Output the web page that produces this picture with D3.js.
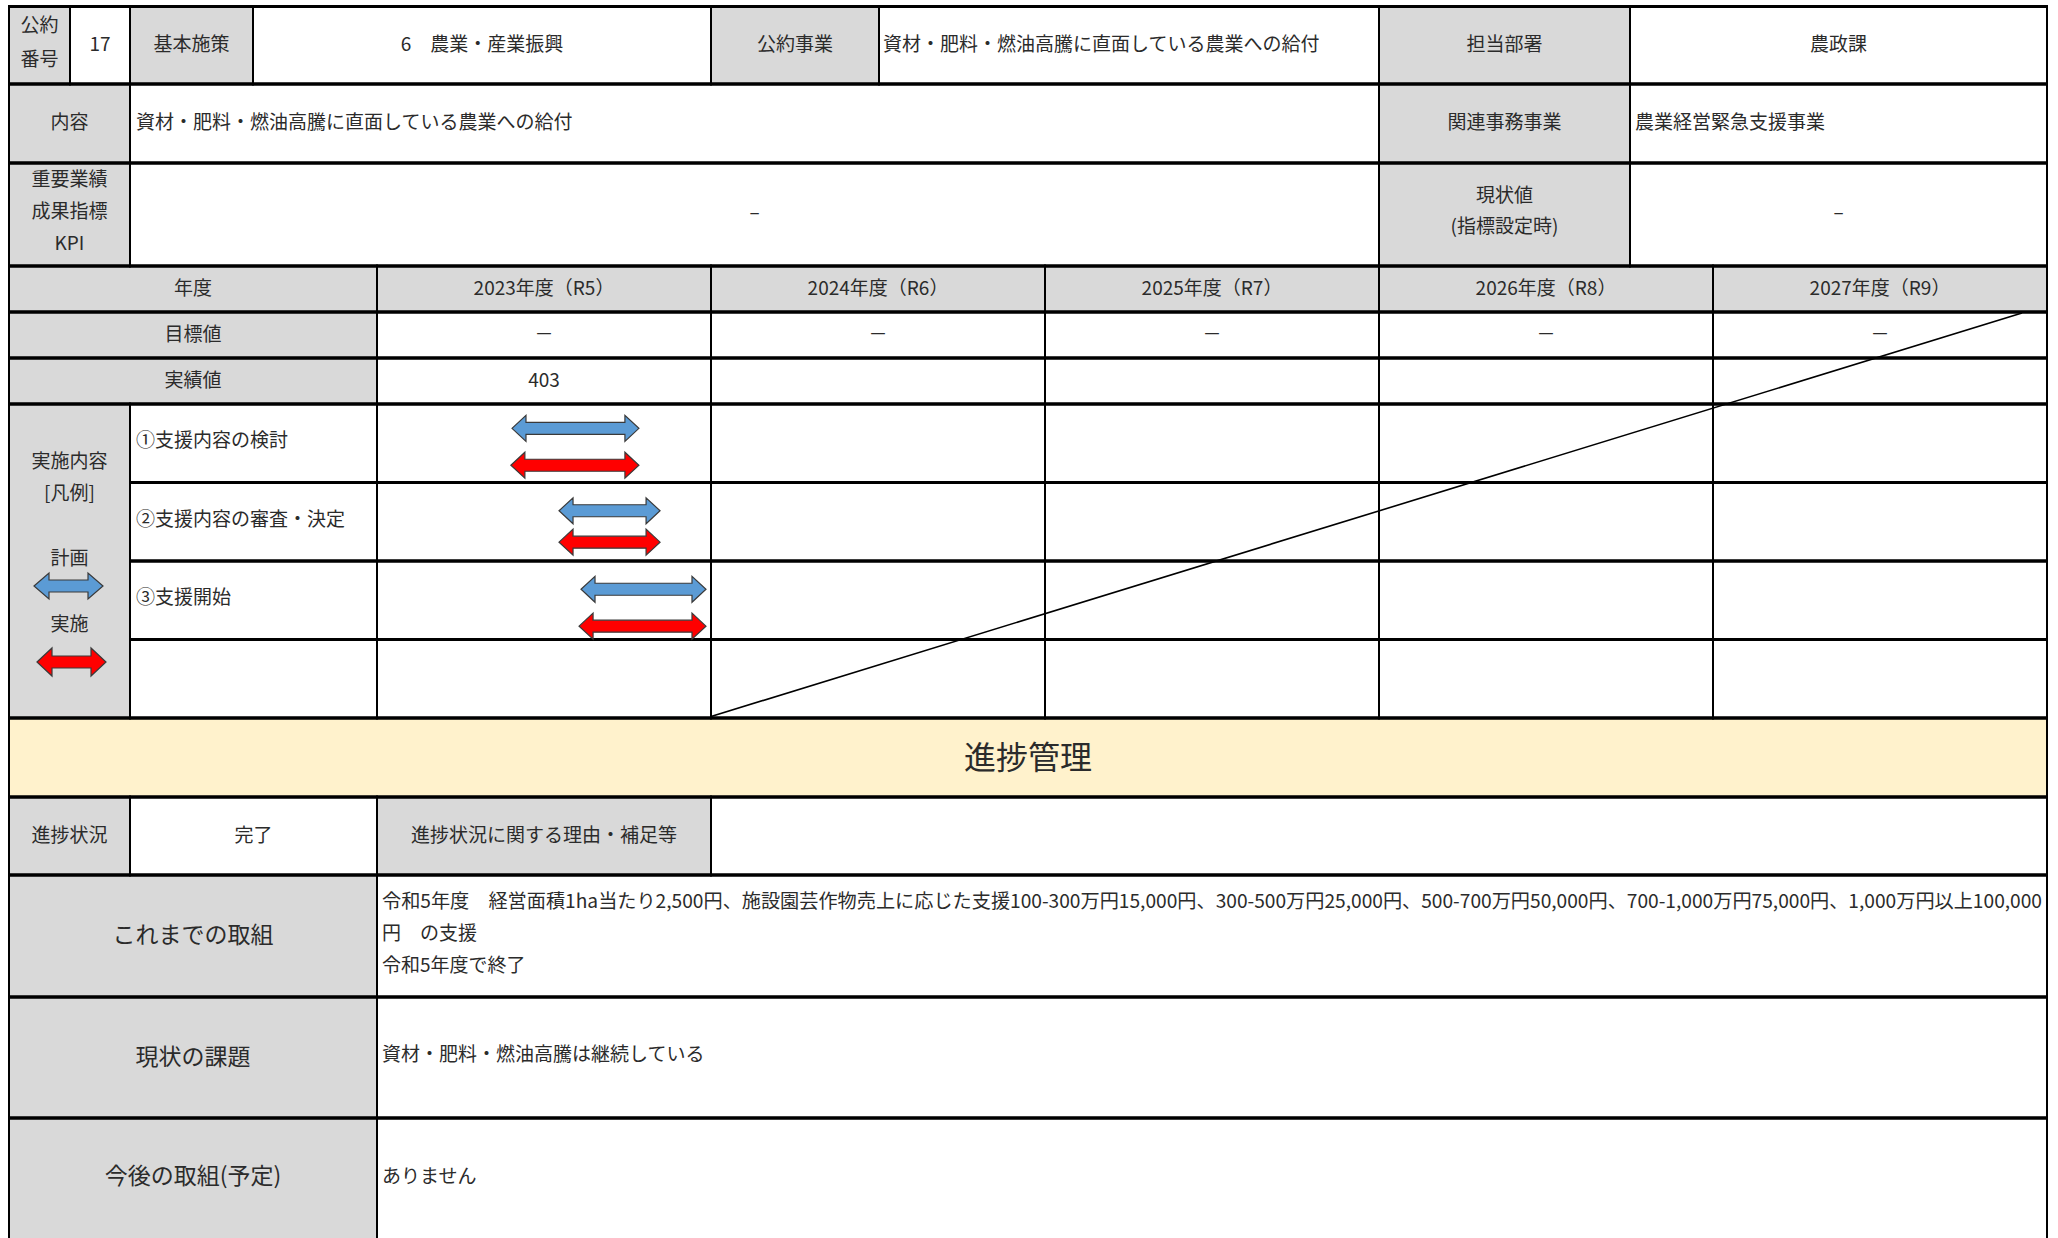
<!DOCTYPE html>
<html><head><meta charset="utf-8">
<script src="https://cdn.jsdelivr.net/npm/d3@7"></script>
<style>
html,body{margin:0;padding:0;background:#fff;}
text{font-family:"Noto Sans CJK JP","Noto Sans",sans-serif;fill:#2b2b2b;}
</style></head>
<body>
<svg id="chart" width="2058" height="1238"></svg>
<script>
// ---------- data ----------
const pledgeNoLabel = ["公約", "番号"];
const pledgeNo = "17";
const basicPolicy = "6　農業・産業振興";
const pledgeProject = "資材・肥料・燃油高騰に直面している農業への給付";
const department = "農政課";
const contentText = "資材・肥料・燃油高騰に直面している農業への給付";
const relatedProject = "農業経営緊急支援事業";
const kpiLabel = ["重要業績", "成果指標", "KPI"];
const kpiValue = "–";
const currentLabel = ["現状値", "(指標設定時)"];
const currentValue = "–";
const years = ["2023年度（R5）", "2024年度（R6）", "2025年度（R7）", "2026年度（R8）", "2027年度（R9）"];
const targetValues = ["－", "－", "－", "－", "－"];
const actualValues = ["403", "", "", "", ""];
const tasks = ["①支援内容の検討", "②支援内容の審査・決定", "③支援開始", ""];
// months from start of fiscal year 2023 (April = 0)
const planStart = [4.85, 6.54, 7.33];
const planEnd = [9.41, 10.17, 11.82];
const actualStart = [4.81, 6.54, 7.26];
const actualEnd = [9.41, 10.17, 11.82];
const legendLabels = ["実施内容", "[凡例]", "計画", "実施"];
const sectionTitle = "進捗管理";
const progressStatus = "完了";
const effortsLines = [
  "令和5年度　経営面積1ha当たり2,500円、施設園芸作物売上に応じた支援100-300万円15,000円、300-500万円25,000円、500-700万円50,000円、700-1,000万円75,000円、1,000万円以上100,000",
  "円　の支援",
  "令和5年度で終了"
];
const issueText = "資材・肥料・燃油高騰は継続している";
const futureText = "ありません";

// ---------- layout ----------
const svg = d3.select("#chart");
const GRAY = "#d9d9d9", YEL = "#fff2cc", WHITE = "#ffffff";
const L = 9, R = 2047;
const rowEdges = [6.5, 84, 163, 266, 312, 358, 404, 482, 560.5, 639, 718, 797, 875, 997, 1118, 1245];
const xYear = d3.scaleBand().domain(years).range([377, R]);
const month = d3.scaleLinear().domain([0, 12]).range([xYear(years[0]), xYear(years[0]) + xYear.bandwidth()]);
const taskY = d3.scaleBand().domain(d3.range(tasks.length)).range([rowEdges[6], rowEdges[10]]);

const cells = [];
function cell(x0, x1, y0, y1, fill) { cells.push({x0, x1, y0, y1, fill}); }
const r = rowEdges;
// row 0
cell(L, 70, r[0], r[1], GRAY); cell(70, 130, r[0], r[1], WHITE); cell(130, 253, r[0], r[1], GRAY);
cell(253, 711, r[0], r[1], WHITE); cell(711, 879, r[0], r[1], GRAY); cell(879, 1379, r[0], r[1], WHITE);
cell(1379, 1630, r[0], r[1], GRAY); cell(1630, R, r[0], r[1], WHITE);
// row 1
cell(L, 130, r[1], r[2], GRAY); cell(130, 1379, r[1], r[2], WHITE); cell(1379, 1630, r[1], r[2], GRAY); cell(1630, R, r[1], r[2], WHITE);
// row 2
cell(L, 130, r[2], r[3], GRAY); cell(130, 1379, r[2], r[3], WHITE); cell(1379, 1630, r[2], r[3], GRAY); cell(1630, R, r[2], r[3], WHITE);
// rows 3-5
[3, 4, 5].forEach(i => {
  cell(L, 377, r[i], r[i + 1], GRAY);
  years.forEach(y => cell(xYear(y), xYear(y) + xYear.bandwidth(), r[i], r[i + 1], i === 3 ? GRAY : WHITE));
});
// task rows
cell(L, 130, r[6], r[10], GRAY);
tasks.forEach((t, i) => {
  const y0 = taskY(i), y1 = y0 + taskY.bandwidth();
  cell(130, 377, y0, y1, WHITE);
  years.forEach(y => cell(xYear(y), xYear(y) + xYear.bandwidth(), y0, y1, WHITE));
});
// section band
cell(L, R, r[10], r[11], YEL);
// progress
cell(L, 130, r[11], r[12], GRAY); cell(130, 377, r[11], r[12], WHITE); cell(377, 711, r[11], r[12], GRAY); cell(711, R, r[11], r[12], WHITE);
[12, 13, 14].forEach(i => { cell(L, 377, r[i], r[i + 1], GRAY); cell(377, R, r[i], r[i + 1], WHITE); });

const gCells = svg.append("g");
gCells.selectAll("rect").data(cells).join("rect")
  .attr("x", d => d.x0).attr("y", d => d.y0).attr("width", d => d.x1 - d.x0).attr("height", d => d.y1 - d.y0)
  .attr("fill", d => d.fill);
const vLines = [], hLines = [];
cells.forEach(c => {
  vLines.push([c.x0, c.y0, c.x0, c.y1], [c.x1, c.y0, c.x1, c.y1]);
  hLines.push([c.x0, c.y0, c.x1, c.y0], [c.x0, c.y1, c.x1, c.y1]);
});
svg.append("g").selectAll("line").data(vLines).join("line")
  .attr("x1", d => d[0]).attr("y1", d => d[1]).attr("x2", d => d[2]).attr("y2", d => d[3])
  .attr("stroke", "#000").attr("stroke-width", 2);
svg.append("g").selectAll("line").data(hLines).join("line")
  .attr("x1", d => d[0] - 1).attr("y1", d => d[1]).attr("x2", d => d[2] + 1).attr("y2", d => d[3])
  .attr("stroke", "#000").attr("stroke-width", 3);

// diagonal "not applicable" line
svg.append("line")
  .attr("x1", xYear(years[1])).attr("y1", r[10] - 1.5)
  .attr("x2", xYear(years[4]) + xYear.bandwidth() - 25).attr("y2", r[4] + 1)
  .attr("stroke", "#000").attr("stroke-width", 1.6);

// ---------- text ----------
const gT = svg.append("g");
const DY = -2.8;
function txt(s, x, y, opt = {}) {
  const t = gT.append("text").attr("x", x).attr("y", y + DY).text(s)
    .attr("font-size", opt.size || 19)
    .attr("text-anchor", opt.anchor || "middle")
    .attr("dominant-baseline", "central");
  if (opt.len) t.attr("textLength", opt.len).attr("lengthAdjust", "spacingAndGlyphs");
  return t;
}
const mid = (a, b) => (a + b) / 2;
txt(pledgeNoLabel[0], mid(L, 70), 26); txt(pledgeNoLabel[1], mid(L, 70), 60);
txt(pledgeNo, 100, mid(r[0], r[1]));
txt("基本施策", mid(130, 253), mid(r[0], r[1]));
txt(basicPolicy, mid(253, 711), mid(r[0], r[1]));
txt("公約事業", mid(711, 879), mid(r[0], r[1]));
txt(pledgeProject, 883, mid(r[0], r[1]), {anchor: "start"});
txt("担当部署", mid(1379, 1630), mid(r[0], r[1]));
txt(department, mid(1630, R), mid(r[0], r[1]));
txt("内容", mid(L, 130), mid(r[1], r[2]));
txt(contentText, 136, mid(r[1], r[2]), {anchor: "start"});
txt("関連事務事業", mid(1379, 1630), mid(r[1], r[2]));
txt(relatedProject, 1635, mid(r[1], r[2]), {anchor: "start"});
kpiLabel.forEach((s, i) => txt(s, mid(L, 130), 180 + i * 32));
txt(kpiValue, mid(130, 1379), 213);
currentLabel.forEach((s, i) => txt(s, mid(1379, 1630), 196 + i * 31));
txt(currentValue, mid(1630, R), 213);
txt("年度", mid(L, 377), mid(r[3], r[4]));
years.forEach((y, i) => {
  const cx = xYear(y) + xYear.bandwidth() / 2;
  txt(y, cx, mid(r[3], r[4]));
  txt(targetValues[i], cx, mid(r[4], r[5]));
  if (actualValues[i]) txt(actualValues[i], cx, mid(r[5], r[6]));
});
txt("目標値", mid(L, 377), mid(r[4], r[5]));
txt("実績値", mid(L, 377), mid(r[5], r[6]));
txt(legendLabels[0], mid(L, 130), 462); txt(legendLabels[1], mid(L, 130), 494);
txt(legendLabels[2], mid(L, 130), 559); txt(legendLabels[3], mid(L, 130), 625);
tasks.forEach((t, i) => { if (t) txt(t, 136, taskY(i) + taskY.bandwidth() * 0.48, {anchor: "start"}); });
txt(sectionTitle, mid(L, R), mid(r[10], r[11]), {size: 32});
txt("進捗状況", mid(L, 130), mid(r[11], r[12]));
txt(progressStatus, mid(130, 377), mid(r[11], r[12]));
txt("進捗状況に関する理由・補足等", mid(377, 711), mid(r[11], r[12]));
txt("これまでの取組", mid(L, 377), mid(r[12], r[13]), {size: 23});
txt("現状の課題", mid(L, 377), mid(r[13], r[14]), {size: 23});
txt("今後の取組(予定)", mid(L, 377), 1177, {size: 23});
effortsLines.forEach((s, i) => txt(s, 382, 902 + i * 32, {anchor: "start", len: i === 0 ? 1660 : null}));
txt(issueText, 382, 1055, {anchor: "start"});
txt(futureText, 382, 1177, {anchor: "start"});

// ---------- arrows ----------
function arrowPath(x0, x1, cy, H = 26, h = 12, hl = 14) {
  const p = d3.path();
  p.moveTo(x0, cy);
  p.lineTo(x0 + hl, cy - H / 2); p.lineTo(x0 + hl, cy - h / 2);
  p.lineTo(x1 - hl, cy - h / 2); p.lineTo(x1 - hl, cy - H / 2);
  p.lineTo(x1, cy);
  p.lineTo(x1 - hl, cy + H / 2); p.lineTo(x1 - hl, cy + h / 2);
  p.lineTo(x0 + hl, cy + h / 2); p.lineTo(x0 + hl, cy + H / 2);
  p.closePath();
  return p.toString();
}
const BLUE = "#5b9bd5", RED = "#ff0000";
const gA = svg.append("g");
planStart.forEach((s, i) => {
  const y0 = taskY(i), bw = taskY.bandwidth();
  const offs = i === 0 ? [0.31, 0.78] : i === 1 ? [0.36, 0.76] : [0.36, 0.83];
  gA.append("path").attr("d", arrowPath(month(s), month(planEnd[i]), y0 + bw * offs[0]))
    .attr("fill", BLUE).attr("stroke", "#3a3a3a").attr("stroke-width", 1.2);
  gA.append("path").attr("d", arrowPath(month(actualStart[i]), month(actualEnd[i]), y0 + bw * offs[1]))
    .attr("fill", RED).attr("stroke", "#3a3a3a").attr("stroke-width", 1.2);
});
gA.append("path").attr("d", arrowPath(34, 103, 586, 26, 12, 15)).attr("fill", BLUE).attr("stroke", "#3a3a3a").attr("stroke-width", 1.2);
gA.append("path").attr("d", arrowPath(37, 106, 662, 28, 12, 15)).attr("fill", RED).attr("stroke", "#3a3a3a").attr("stroke-width", 1.2);
</script>
</body></html>
